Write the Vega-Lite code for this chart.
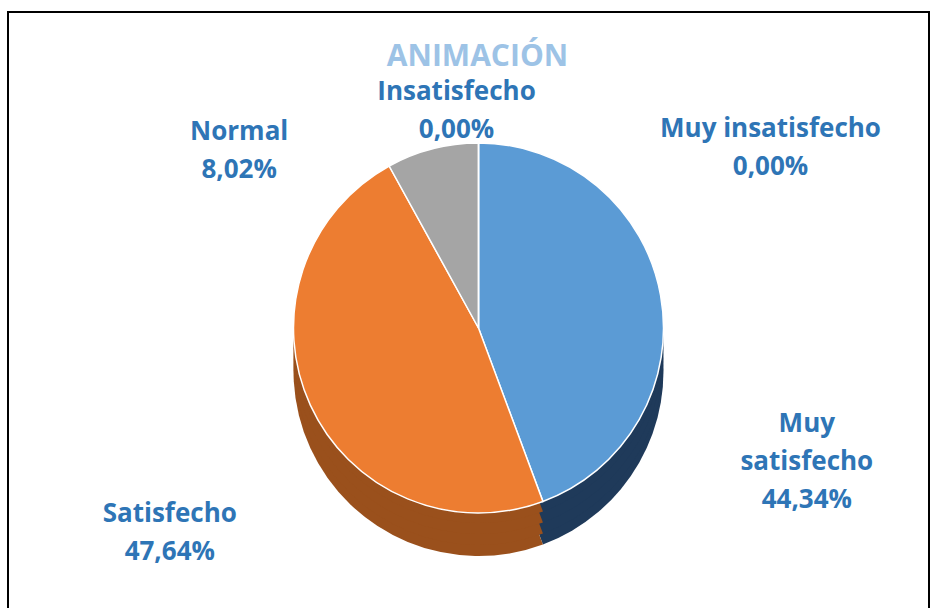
{
  "$schema": "https://vega.github.io/schema/vega-lite/v6.json",
  "width": 921,
  "height": 598,
  "autosize": {"type": "none"},
  "padding": {"left": 8, "top": 12, "right": 7, "bottom": 0},
  "background": "white",
  "config": {"view": {"stroke": null}},
  "layer": [
    {
      "data": {"values": [{"marco": 1}]},
      "mark": {"type": "rect", "fill": null, "fillOpacity": 0, "stroke": "#000000", "strokeWidth": 2},
      "encoding": {}
    },
    {
      "data": {"values": [{"titulo": "ANIMACIÓN"}]},
      "mark": {"type": "text", "x": {"expr": "width/2+9"}, "y": {"expr": "45"}, "font": "Open Sans", "fontSize": 30, "fontWeight": "bold", "color": "#9DC3E6", "align": "center", "baseline": "middle"},
      "encoding": {"text": {"field": "titulo", "type": "nominal"}}
    },
    {
      "data": {"values": [
        {"categoria": "Muy insatisfecho", "valor": 0, "orden": 1, "etiqueta": "Muy insatisfecho\n0,00%"},
        {"categoria": "Muy satisfecho", "valor": 44.34, "orden": 2, "etiqueta": "Muy\nsatisfecho\n44,34%"},
        {"categoria": "Satisfecho", "valor": 47.64, "orden": 3, "etiqueta": "Satisfecho\n47,64%"},
        {"categoria": "Normal", "valor": 8.02, "orden": 4, "etiqueta": "Normal\n8,02%"},
        {"categoria": "Insatisfecho", "valor": 0, "orden": 5, "etiqueta": "Insatisfecho\n0,00%"}
      ]},
      "encoding": {
        "theta": {"field": "valor", "type": "quantitative", "stack": true},
        "order": {"field": "orden", "type": "quantitative"},
        "detail": {"field": "categoria", "type": "nominal"}
      },
      "layer": [
        {
          "mark": {"type": "arc", "outerRadius": 185, "x": {"expr": "width/2+10"}, "y": {"expr": "height/2+60"}},
          "encoding": {"fill": {"field": "categoria", "type": "nominal", "legend": null,
            "scale": {"domain": ["Muy insatisfecho", "Muy satisfecho", "Satisfecho", "Normal", "Insatisfecho"], "range": ["#2B4A80", "#1F3A5A", "#9A501C", "#6E6E6E", "#A07A00"]}}}
        },
        {
          "mark": {"type": "arc", "outerRadius": 185, "x": {"expr": "width/2+10"}, "y": {"expr": "height/2+49"}},
          "encoding": {"fill": {"field": "categoria", "type": "nominal", "legend": null}}
        },
        {
          "mark": {"type": "arc", "outerRadius": 185, "x": {"expr": "width/2+10"}, "y": {"expr": "height/2+38"}},
          "encoding": {"fill": {"field": "categoria", "type": "nominal", "legend": null}}
        },
        {
          "mark": {"type": "arc", "outerRadius": 185, "x": {"expr": "width/2+10"}, "y": {"expr": "height/2+27"}},
          "encoding": {"fill": {"field": "categoria", "type": "nominal", "legend": null}}
        },
        {
          "mark": {"type": "arc", "outerRadius": 185, "stroke": "#FFFFFF", "strokeWidth": 1.5, "x": {"expr": "width/2+10"}, "y": {"expr": "height/2+17"}},
          "encoding": {"color": {"field": "categoria", "type": "nominal", "legend": null,
            "scale": {"domain": ["Muy insatisfecho", "Muy satisfecho", "Satisfecho", "Normal", "Insatisfecho"], "range": ["#4472C4", "#5B9BD5", "#ED7D31", "#A5A5A5", "#FFC000"]}}}
        },
        {
          "mark": {"type": "text", "radius": 360, "dx": -26, "dy": 160, "x": {"expr": "width/2+10"}, "y": {"expr": "height/2+17"}, "font": "Open Sans", "fontSize": 26, "fontWeight": "bold", "color": "#2E75B6", "lineBreak": "\n", "lineHeight": 38, "align": "center", "baseline": "middle"},
          "encoding": {"text": {"condition": {"test": "datum.categoria === 'Muy satisfecho'", "field": "etiqueta"}, "value": ""}}
        },
        {
          "mark": {"type": "text", "radius": 300, "dx": -36, "dy": 61, "x": {"expr": "width/2+10"}, "y": {"expr": "height/2+17"}, "font": "Open Sans", "fontSize": 26, "fontWeight": "bold", "color": "#2E75B6", "lineBreak": "\n", "lineHeight": 38, "align": "center", "baseline": "middle"},
          "encoding": {"text": {"condition": {"test": "datum.categoria === 'Satisfecho'", "field": "etiqueta"}, "value": ""}}
        },
        {
          "mark": {"type": "text", "radius": 250, "dx": -177, "dy": 46, "x": {"expr": "width/2+10"}, "y": {"expr": "height/2+17"}, "font": "Open Sans", "fontSize": 26, "fontWeight": "bold", "color": "#2E75B6", "lineBreak": "\n", "lineHeight": 38, "align": "center", "baseline": "middle"},
          "encoding": {"text": {"condition": {"test": "datum.categoria === 'Normal'", "field": "etiqueta"}, "value": ""}}
        },
        {
          "mark": {"type": "text", "radius": 220, "dx": -22, "dy": -16, "x": {"expr": "width/2+10"}, "y": {"expr": "height/2+17"}, "font": "Open Sans", "fontSize": 26, "fontWeight": "bold", "color": "#2E75B6", "lineBreak": "\n", "lineHeight": 38, "align": "center", "baseline": "middle"},
          "encoding": {"text": {"condition": {"test": "datum.categoria === 'Insatisfecho'", "field": "etiqueta"}, "value": ""}}
        },
        {
          "mark": {"type": "text", "radius": 181, "dx": 292, "dy": -18, "x": {"expr": "width/2+10"}, "y": {"expr": "height/2+17"}, "font": "Open Sans", "fontSize": 26, "fontWeight": "bold", "color": "#2E75B6", "lineBreak": "\n", "lineHeight": 38, "align": "center", "baseline": "middle"},
          "encoding": {"text": {"condition": {"test": "datum.categoria === 'Muy insatisfecho'", "field": "etiqueta"}, "value": ""}}
        }
      ]
    }
  ]
}
